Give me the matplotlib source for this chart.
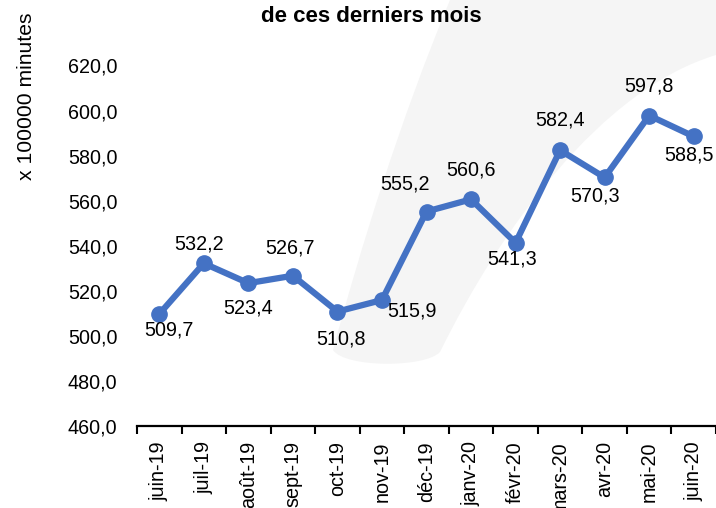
import matplotlib
matplotlib.use("Agg")
import matplotlib.pyplot as plt
from matplotlib import font_manager
from matplotlib.path import Path
from matplotlib.patches import PathPatch

months = ["juin-19", "juil-19", "août-19", "sept-19", "oct-19", "nov-19", "déc-19",
          "janv-20", "févr-20", "mars-20", "avr-20", "mai-20", "juin-20"]
minutes = [509.7, 532.2, 523.4, 526.7, 510.8, 515.9, 555.2,
           560.6, 541.3, 582.4, 570.3, 597.8, 588.5]
y_ticks = [460, 480, 500, 520, 540, 560, 580, 600, 620]

names = {f.name for f in font_manager.fontManager.ttflist}
narrow = "Liberation Sans Narrow" in names
font = "Liberation Sans Narrow" if narrow else "Liberation Sans"
plt.rcParams["font.family"] = [font, "DejaVu Sans"]
fs = 17 if narrow else 14.2

blue = "#4472C4"
W, H = 716, 508

fig = plt.figure(figsize=(W / 100, H / 100), dpi=100)

# faint background swoosh (decoration only), pixel coords from top-left
swoosh = [(333, 350), (360, 250), (400, 120), (450, 0), (716, 0), (716, 55),
          (600, 90), (500, 230), (440, 352), (425, 368), (345, 368), (333, 350)]
codes = [Path.MOVETO, Path.CURVE4, Path.CURVE4, Path.CURVE4, Path.LINETO, Path.LINETO,
         Path.CURVE4, Path.CURVE4, Path.CURVE4, Path.CURVE4, Path.CURVE4, Path.CURVE4]
verts = [(px / W, 1 - py / H) for px, py in swoosh]
fig.patches.append(PathPatch(Path(verts, codes), transform=fig.transFigure,
                             facecolor="#f5f5f5", edgecolor="none", zorder=0))

ax = fig.add_axes([137 / W, 82 / H, 579 / W, 360.5 / H])
ax.set_zorder(2)
ax.patch.set_visible(False)

x = list(range(len(months)))
ax.plot(x, minutes, color=blue, lw=4.5, marker="o", ms=11, solid_capstyle="round")

# offsets of the data labels (pixels, y up)
offsets = [(10, -16), (-5, 19), (0, -25), (-3, 28), (4, -27), (30, -11), (-22, 28),
           (0, 29), (-3, -16), (0, 30), (-10, -19), (0, 30), (-5, -19)]
for xi, v, (dx, dy) in zip(x, minutes, offsets):
    ax.annotate(f"{v:.1f}".replace(".", ","), (xi, v), xytext=(dx, dy),
                textcoords="offset pixels", ha="center", va="center", fontsize=fs)

ax.set_xlim(-0.5, len(months) - 0.5)
ax.set_ylim(460, 620)
ax.set_yticks(y_ticks)
ax.set_yticklabels([f"{t:.1f}".replace(".", ",") for t in y_ticks], fontsize=fs)
ax.set_xticks(x)
ax.set_xticklabels(months, rotation=90, fontsize=fs)
ax.set_xticks([i - 0.5 for i in range(len(months) + 1)], minor=True)
ax.tick_params(axis="x", which="major", length=0, pad=11)
ax.tick_params(axis="x", which="minor", length=6, width=1.5, direction="out")
ax.tick_params(axis="y", length=0, pad=14)

for side in ["left", "right", "top"]:
    ax.spines[side].set_visible(False)
ax.spines["bottom"].set_linewidth(1.6)

ax.set_ylabel("x 100000 minutes", fontsize=fs + 1)
ax.yaxis.set_label_coords(-0.174, 0.915)

fig.text(0.518, 0.968, "de ces derniers mois", ha="center", va="center",
         fontsize=16, fontweight="bold")

fig.savefig("out.png", dpi=100)
